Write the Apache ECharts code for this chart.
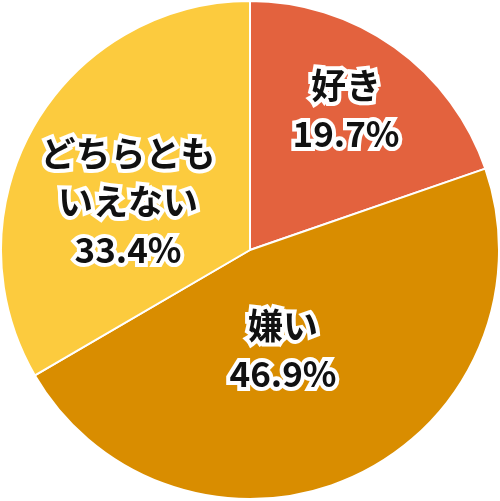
<!DOCTYPE html>
<html><head><meta charset="utf-8">
<script src="https://cdn.jsdelivr.net/npm/echarts@6/dist/echarts.min.js"></script>
<style>html,body{margin:0;padding:0;background:#fff}#c{width:500px;height:501px}</style>
</head><body><div id="c"></div>
<script>
const categories = ['好き', '嫌い', 'どちらとも\nいえない'];
const values = [19.7, 46.9, 33.4];
const colors = ['#E3623E', '#D98D00', '#FCCB3E'];
const labelPos = [[346, 110], [283, 350], [128, 202]];

const chart = echarts.init(document.getElementById('c'));
chart.setOption({
  animation: false,
  series: [{
    type: 'pie',
    center: [250, 250],
    radius: [0, 249],
    startAngle: 90,
    clockwise: true,
    silent: true,
    itemStyle: { borderColor: '#fff', borderWidth: 2 },
    label: {
      show: true,
      position: 'inside',
      formatter: p => p.name + '\n' + p.value.toFixed(1) + '%',
      fontFamily: '"Noto Sans CJK JP", "Noto Sans", sans-serif',
      fontWeight: 'bold',
      fontSize: 35,
      lineHeight: 48,
      color: '#111',
      textBorderColor: '#fff',
      textBorderWidth: 8,
      align: 'center',
      verticalAlign: 'middle'
    },
    labelLine: { show: false },
    labelLayout: p => ({ x: labelPos[p.dataIndex][0], y: labelPos[p.dataIndex][1], align: 'center', verticalAlign: 'middle' }),
    data: categories.map((c, i) => ({ name: c, value: values[i], itemStyle: { color: colors[i] } }))
  }]
});
</script></body></html>
